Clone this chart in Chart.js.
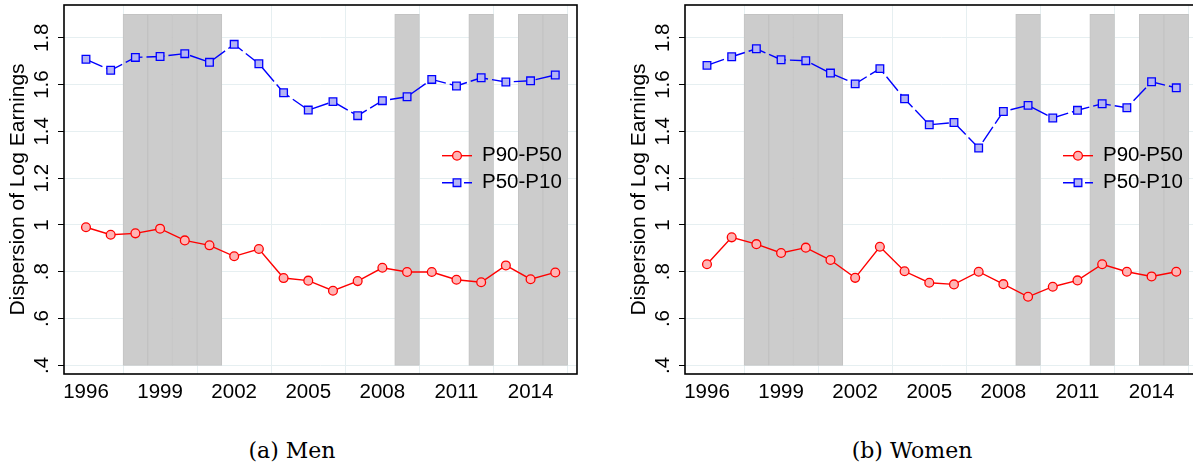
<!DOCTYPE html>
<html>
<head>
<meta charset="utf-8">
<script src="https://cdn.jsdelivr.net/npm/chart.js@4.4.1/dist/chart.umd.min.js"></script>
<style>
html, body { margin: 0; padding: 0; background: #fff; width: 1193px; height: 469px; overflow: hidden; }
.panel { position: absolute; top: 0; }
.cap { position: absolute; top: 438px; width: 300px; text-align: center; font-family: "DejaVu Serif", serif; font-size: 22px; color: #000; }
</style>
</head>
<body>
<div class="panel" style="left:0"><canvas id="chart-men" width="580" height="420"></canvas></div>
<div class="panel" style="left:621px"><canvas id="chart-women" width="580" height="420"></canvas></div>
<div class="cap" style="left:142px">(a) Men</div>
<div class="cap" style="left:762px">(b) Women</div>
<script>
// data
const years = [1996, 1997, 1998, 1999, 2000, 2001, 2002, 2003, 2004, 2005, 2006, 2007, 2008, 2009, 2010, 2011, 2012, 2013, 2014, 2015];
const menP9050 = [0.990, 0.958, 0.964, 0.984, 0.934, 0.913, 0.866, 0.897, 0.773, 0.762, 0.719, 0.760, 0.817, 0.799, 0.799, 0.766, 0.755, 0.827, 0.768, 0.797];
const menP5010 = [1.708, 1.661, 1.716, 1.720, 1.732, 1.695, 1.772, 1.689, 1.565, 1.491, 1.527, 1.467, 1.531, 1.548, 1.622, 1.594, 1.629, 1.611, 1.616, 1.641];
const womenP9050 = [0.832, 0.947, 0.918, 0.880, 0.903, 0.850, 0.774, 0.907, 0.802, 0.753, 0.746, 0.800, 0.747, 0.693, 0.736, 0.763, 0.832, 0.800, 0.780, 0.800];
const womenP5010 = [1.682, 1.719, 1.753, 1.706, 1.702, 1.649, 1.603, 1.668, 1.539, 1.428, 1.438, 1.329, 1.485, 1.511, 1.457, 1.490, 1.518, 1.501, 1.612, 1.586];
const recessionYears = [1998, 1999, 2000, 2001, 2009, 2012, 2014, 2015];
const bandLow = 0.4, bandHigh = 1.9;
const xTicks = [1996, 1999, 2002, 2005, 2008, 2011, 2014];
const yTicks = [0.4, 0.6, 0.8, 1.0, 1.2, 1.4, 1.6, 1.8];
const yTickLabels = ['.4', '.6', '.8', '1', '1.2', '1.4', '1.6', '1.8'];
const seriesNames = ['P90-P50', 'P50-P10'];
const yTitle = 'Dispersion of Log Earnings';

const FONT = '"Liberation Sans", Arial, sans-serif';

// 프레임 + 범례 (차트 영역 안쪽)
const frameLegend = {
    id: 'frameLegend',
    afterDatasetsDraw(chart) {
        const { ctx, chartArea: a } = chart;
        ctx.save();
        ctx.strokeStyle = '#000';
        ctx.lineWidth = 1.6;
        ctx.strokeRect(a.left, a.top, a.right - a.left, a.bottom - a.top);
        const items = chart.data.datasets.filter(d => d.type !== 'bar');
        items.forEach((d, i) => {
            const y = a.top + 150.7 + i * 27;
            const x0 = a.left + 378;
            ctx.strokeStyle = d.borderColor;
            ctx.lineWidth = d.borderWidth;
            ctx.setLineDash(d.borderDash || []);
            ctx.beginPath(); ctx.moveTo(x0, y); ctx.lineTo(x0 + 30, y); ctx.stroke();
            ctx.setLineDash([]);
            ctx.fillStyle = d.pointBackgroundColor;
            ctx.strokeStyle = d.pointBorderColor;
            ctx.lineWidth = d.pointBorderWidth;
            Chart.helpers.drawPoint(ctx, { pointStyle: d.pointStyle, radius: d.pointRadius, borderWidth: d.pointBorderWidth, rotation: 0 }, x0 + 15, y);
            ctx.fillStyle = '#000';
            ctx.font = '20.5px ' + FONT;
            ctx.textBaseline = 'middle';
            ctx.textAlign = 'left';
            ctx.fillText(d.label, x0 + 40, y);
        });
        ctx.restore();
    }
};

function noPad(s) {
    s.paddingTop = 0; s.paddingBottom = 0; s.paddingLeft = 0; s.paddingRight = 0;
}

function makeChart(id, p9050, p5010) {
    const bars = recessionYears.map(y => ({ x: y, y: [bandLow, bandHigh] }));
    return new Chart(document.getElementById(id), {
        type: 'line',
        data: {
            datasets: [
                { label: seriesNames[0], data: years.map((y, i) => ({ x: y, y: p9050[i] })), order: 0,
                  borderColor: '#ff0000', borderWidth: 1.4, pointStyle: 'circle', pointRadius: 4.4,
                  pointBackgroundColor: '#ffb4b4', pointBorderColor: '#ff0000', pointBorderWidth: 1.3 },
                { label: seriesNames[1], data: years.map((y, i) => ({ x: y, y: p5010[i] })), order: 1,
                  borderColor: '#0000ff', borderWidth: 1.4, borderDash: [18, 4], pointStyle: 'rect', pointRadius: 5.4,
                  pointBackgroundColor: '#b4b4f4', pointBorderColor: '#0000ff', pointBorderWidth: 1.3 },
                { type: 'bar', label: 'recession', data: bars, order: 10,
                  backgroundColor: '#cccccc', borderColor: '#c3c3c3', borderWidth: 1,
                  barPercentage: 1.0, categoryPercentage: 1.0, borderSkipped: false }
            ]
        },
        options: {
            responsive: false,
            animation: false,
            devicePixelRatio: 1,
            layout: { autoPadding: false, padding: { top: 5, right: 3, left: 0, bottom: 0 } },
            plugins: { legend: { display: false }, tooltip: { enabled: false } },
            scales: {
                x: {
                    type: 'linear', min: 1995.11, max: 2015.88, offset: false,
                    afterBuildTicks: s => { s.ticks = xTicks.map(v => ({ value: v })); },
                    afterFit: s => { s.height = 46; noPad(s); },
                    grid: { color: '#e6eff1', lineWidth: 1, drawTicks: true, tickLength: 6, tickColor: 'rgba(0,0,0,0)' },
                    border: { display: false },
                    ticks: { autoSkip: false, maxRotation: 0, padding: 0, color: '#000',
                             font: { family: FONT, size: 20.5 }, callback: v => String(v) }
                },
                y: {
                    type: 'linear', min: 0.363, max: 1.94,
                    afterBuildTicks: s => { s.ticks = yTicks.map(v => ({ value: v })); },
                    afterFit: s => { s.width = 64; noPad(s); },
                    grid: { color: '#e6eff1', lineWidth: 1, drawTicks: true, tickLength: 6, tickColor: '#000' },
                    border: { display: false },
                    title: { display: true, text: yTitle, color: '#000', font: { family: FONT, size: 21 }, padding: { top: 6, bottom: 0 } },
                    ticks: { minRotation: 90, maxRotation: 90, crossAlign: 'center', padding: 1, color: '#000',
                             font: { family: FONT, size: 20.5 }, callback: (v, i) => yTickLabels[i] }
                }
            }
        },
        plugins: [frameLegend]
    });
}

makeChart('chart-men', menP9050, menP5010);
makeChart('chart-women', womenP9050, womenP5010);
</script>
</body>
</html>
